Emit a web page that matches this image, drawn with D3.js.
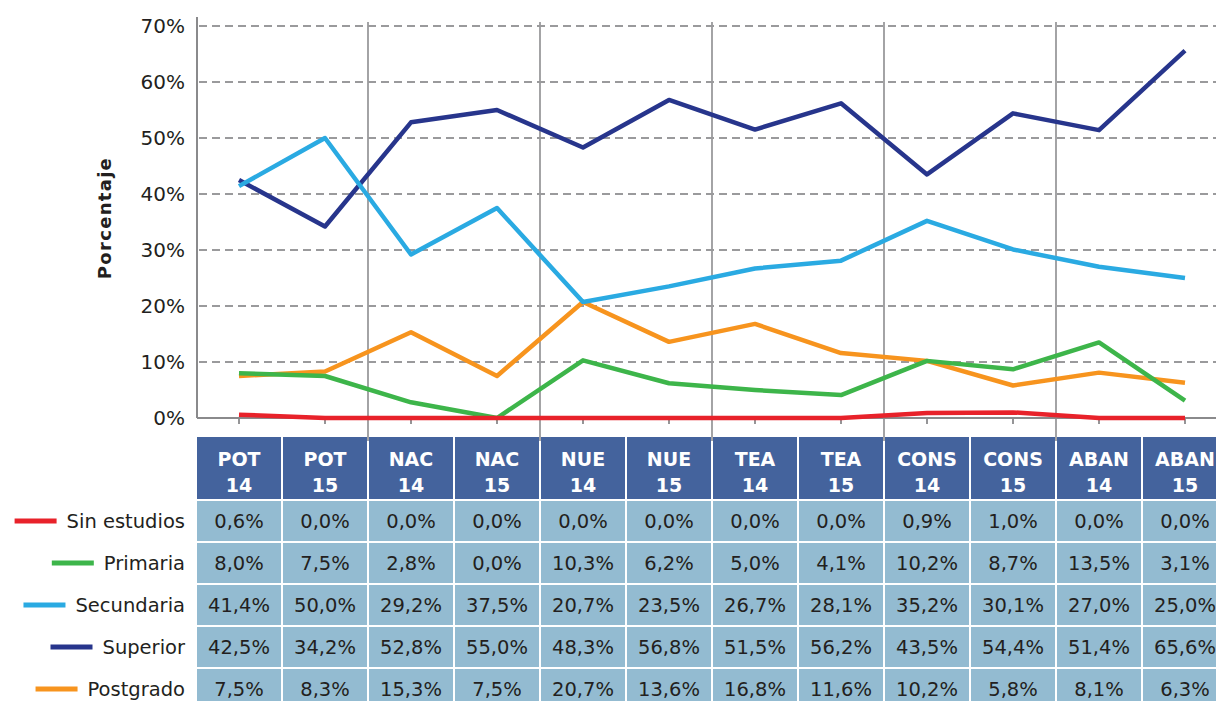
<!DOCTYPE html>
<html>
<head>
<meta charset="utf-8">
<script src="https://cdn.jsdelivr.net/npm/d3@7"></script>
<style>
  body { margin: 0; background: #fff; }
  svg { font-family: "DejaVu Sans", sans-serif; }
</style>
</head>
<body>
<svg id="chart" width="1216" height="701"></svg>
<script>
var categories = ["POT 14", "POT 15", "NAC 14", "NAC 15", "NUE 14", "NUE 15", "TEA 14", "TEA 15", "CONS 14", "CONS 15", "ABAN 14", "ABAN 15"]
var seriesNames = ["Sin estudios", "Primaria", "Secundaria", "Superior", "Postgrado"]
var sinEstudios = [0.6, 0.0, 0.0, 0.0, 0.0, 0.0, 0.0, 0.0, 0.9, 1.0, 0.0, 0.0]
var primaria = [8.0, 7.5, 2.8, 0.0, 10.3, 6.2, 5.0, 4.1, 10.2, 8.7, 13.5, 3.1]
var secundaria = [41.4, 50.0, 29.2, 37.5, 20.7, 23.5, 26.7, 28.1, 35.2, 30.1, 27.0, 25.0]
var superior = [42.5, 34.2, 52.8, 55.0, 48.3, 56.8, 51.5, 56.2, 43.5, 54.4, 51.4, 65.6]
var postgrado = [7.5, 8.3, 15.3, 7.5, 20.7, 13.6, 16.8, 11.6, 10.2, 5.8, 8.1, 6.3]
var yTicks = [0, 10, 20, 30, 40, 50, 60, 70]

var colors = ["#E8222A", "#3DB54A", "#2AAAE2", "#27358C", "#F7941E"]
var series = [sinEstudios, primaria, secundaria, superior, postgrado].map(function(vals, i) {
  return { name: seriesNames[i], values: vals, color: colors[i] }
})

var dims = { left: 196, colW: 86, top: 26, base: 418, headTop: 437, headH: 62, rowTop: 500, rowStep: 42 }

var svg = d3.select("#chart")

var xScale = d3.scaleBand()
  .domain(categories)
  .range([dims.left, dims.left + dims.colW * categories.length])
  .padding(0)

var yScale = d3.scaleLinear()
  .domain([0, 70])
  .range([dims.base, dims.top])

var fmt = function(v) { return v.toFixed(1).replace(".", ",") + "%" }

// dashed gridlines
svg.append("g")
  .selectAll("line")
  .data(yTicks.filter(function(t) { return t > 0 }))
  .enter()
  .append("line")
  .attr("x1", dims.left + 3)
  .attr("x2", 1216)
  .attr("y1", function(d) { return yScale(d) })
  .attr("y2", function(d) { return yScale(d) })
  .attr("stroke", "#9a9a9c")
  .attr("stroke-width", 1.8)
  .attr("stroke-dasharray", "8,5")

// group separators
svg.append("g")
  .selectAll("line")
  .data(categories.filter(function(c, i) { return i > 0 && i % 2 == 0 }))
  .enter()
  .append("line")
  .attr("x1", function(d) { return xScale(d) })
  .attr("x2", function(d) { return xScale(d) })
  .attr("y1", 22)
  .attr("y2", dims.headTop + 4)
  .attr("stroke", "#9a9a9c")
  .attr("stroke-width", 1.8)

// y axis
var yAxis = svg.append("g")
  .attr("transform", "translate(" + (dims.left + 1) + ",0)")
  .call(d3.axisLeft(yScale).tickValues(yTicks).tickSize(0).tickPadding(12).tickFormat(function(d) { return d + "%" }))
yAxis.select(".domain").attr("stroke", "#8a8a8c").attr("stroke-width", 2).attr("d", "M0,17V" + dims.base)
yAxis.selectAll("text")
  .style("font-size", "20px")
  .attr("fill", "#231F20")
  .attr("font-family", "DejaVu Sans")

// x axis baseline + ticks
var xAxis = svg.append("g")
  .attr("transform", "translate(0," + dims.base + ")")
  .call(d3.axisBottom(xScale).tickSize(6).tickSizeOuter(0).tickFormat(""))
xAxis.select(".domain").attr("stroke", "#8a8a8c").attr("stroke-width", 2)
  .attr("d", "M" + (dims.left + 1) + ",0H1216")
xAxis.selectAll(".tick line").attr("stroke", "#8a8a8c").attr("stroke-width", 1.8)

svg.append("text")
  .attr("transform", "translate(111," + 218 + ") rotate(-90)")
  .attr("text-anchor", "middle")
  .style("font-size", "18px")
  .style("font-weight", "bold")
  .style("letter-spacing", "1.3px")
  .attr("fill", "#231F20")
  .text("Porcentaje")

// lines
var line = d3.line()
  .x(function(d, i) { return xScale(categories[i]) + xScale.bandwidth() / 2 })
  .y(function(d) { return yScale(d) })

svg.append("g")
  .selectAll("path")
  .data(series.slice().reverse())
  .enter()
  .append("path")
  .attr("d", function(d) { return line(d.values) })
  .attr("fill", "none")
  .attr("stroke", function(d) { return d.color })
  .attr("stroke-width", 4.5)
  .attr("stroke-linejoin", "round")

// table header
var head = svg.append("g")
head.selectAll("rect")
  .data(categories)
  .enter()
  .append("rect")
  .attr("x", function(d) { return xScale(d) + 1 })
  .attr("y", dims.headTop)
  .attr("width", xScale.bandwidth() - 2)
  .attr("height", dims.headH)
  .attr("fill", "#44639D")

categories.forEach(function(c) {
  var parts = c.split(" ")
  var t = head.append("text")
    .attr("x", xScale(c) + xScale.bandwidth() / 2)
    .attr("text-anchor", "middle")
    .attr("fill", "#fff")
    .style("font-size", "19px")
    .style("font-weight", "bold")
  t.append("tspan").attr("x", xScale(c) + xScale.bandwidth() / 2).attr("y", 466).text(parts[0])
  t.append("tspan").attr("x", xScale(c) + xScale.bandwidth() / 2).attr("y", 492).text(parts[1])
})

// table rows
series.forEach(function(s, r) {
  var y0 = dims.rowTop + r * dims.rowStep + 1
  var g = svg.append("g")
  g.selectAll("rect")
    .data(s.values)
    .enter()
    .append("rect")
    .attr("x", function(d, i) { return xScale(categories[i]) + 1 })
    .attr("y", y0)
    .attr("width", xScale.bandwidth() - 2)
    .attr("height", dims.rowStep - 2)
    .attr("fill", "#93BBD1")
  g.selectAll("text")
    .data(s.values)
    .enter()
    .append("text")
    .attr("x", function(d, i) { return xScale(categories[i]) + xScale.bandwidth() / 2 })
    .attr("y", y0 + 27)
    .attr("text-anchor", "middle")
    .attr("fill", "#231F20")
    .style("font-size", "19.5px")
    .text(fmt)

  // legend
  var label = svg.append("text")
    .attr("x", 185)
    .attr("y", y0 + 27)
    .attr("text-anchor", "end")
    .attr("fill", "#231F20")
    .style("font-size", "19.5px")
    .text(s.name)
  var w = label.node().getComputedTextLength()
  svg.append("line")
    .attr("x1", 185 - w - 52)
    .attr("x2", 185 - w - 10)
    .attr("y1", y0 + 20)
    .attr("y2", y0 + 20)
    .attr("stroke", s.color)
    .attr("stroke-width", 5)
})
</script>
</body>
</html>
